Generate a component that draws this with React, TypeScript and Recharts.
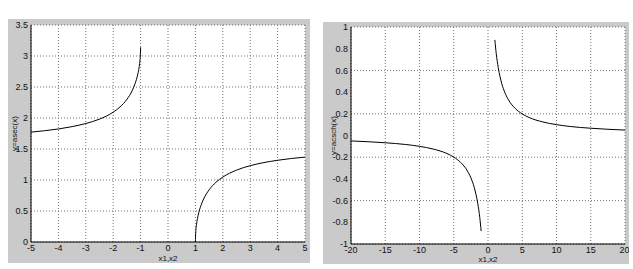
import { LineChart, Line, XAxis, YAxis, CartesianGrid } from 'recharts';

// asec(x)
const asecNeg = [
  { x: -5, y: 1.772 }, { x: -4.5, y: 1.795 }, { x: -4, y: 1.823 }, { x: -3.5, y: 1.861 },
  { x: -3, y: 1.911 }, { x: -2.5, y: 1.982 }, { x: -2, y: 2.094 }, { x: -1.75, y: 2.179 },
  { x: -1.5, y: 2.3 }, { x: -1.3, y: 2.448 }, { x: -1.2, y: 2.556 }, { x: -1.1, y: 2.712 },
  { x: -1.05, y: 2.83 }, { x: -1.02, y: 2.942 }, { x: -1.01, y: 3.0 }, { x: -1, y: 3.14 },
];
const asecPos = [
  { x: 1, y: 0 }, { x: 1.01, y: 0.141 }, { x: 1.02, y: 0.2 }, { x: 1.05, y: 0.311 },
  { x: 1.1, y: 0.43 }, { x: 1.2, y: 0.586 }, { x: 1.3, y: 0.694 }, { x: 1.5, y: 0.841 },
  { x: 1.75, y: 0.963 }, { x: 2, y: 1.047 }, { x: 2.5, y: 1.159 }, { x: 3, y: 1.231 },
  { x: 3.5, y: 1.281 }, { x: 4, y: 1.318 }, { x: 4.5, y: 1.347 }, { x: 5, y: 1.369 },
];

// acsch(x)
const acschNeg = [
  { x: -20, y: -0.05 }, { x: -15, y: -0.067 }, { x: -12, y: -0.083 }, { x: -10, y: -0.1 },
  { x: -8, y: -0.125 }, { x: -6, y: -0.166 }, { x: -5, y: -0.199 }, { x: -4, y: -0.248 },
  { x: -3, y: -0.327 }, { x: -2.5, y: -0.39 }, { x: -2, y: -0.481 }, { x: -1.5, y: -0.625 },
  { x: -1.2, y: -0.756 }, { x: -1, y: -0.881 },
];
const acschPos = [
  { x: 1, y: 0.881 }, { x: 1.2, y: 0.756 }, { x: 1.5, y: 0.625 }, { x: 2, y: 0.481 },
  { x: 2.5, y: 0.39 }, { x: 3, y: 0.327 }, { x: 4, y: 0.248 }, { x: 5, y: 0.199 },
  { x: 6, y: 0.166 }, { x: 8, y: 0.125 }, { x: 10, y: 0.1 }, { x: 12, y: 0.083 },
  { x: 15, y: 0.067 }, { x: 20, y: 0.05 },
];

const xTicksL = [-5, -4, -3, -2, -1, 0, 1, 2, 3, 4, 5];
const yTicksL = [0, 0.5, 1, 1.5, 2, 2.5, 3, 3.5];
const xTicksR = [-20, -15, -10, -5, 0, 5, 10, 15, 20];
const yTicksR = [-1, -0.8, -0.6, -0.4, -0.2, 0, 0.2, 0.4, 0.6, 0.8, 1];

const FONT = '"Liberation Sans", Arial, sans-serif';
const tickStyle = { fill: '#111', fontSize: 9, fontFamily: FONT };
const labelStyle = { fill: '#111', fontSize: 8, fontFamily: FONT, textAnchor: 'middle' as const };

interface PanelProps {
  left: number; top: number; width: number; height: number;
  margin: { top: number; right: number; bottom: number; left: number };
  yWidth: number; xHeight: number; labelOffset: number;
  xTicks: number[]; yTicks: number[];
  neg: { x: number; y: number }[]; pos: { x: number; y: number }[];
  yLabel: string;
}

function Panel(p: PanelProps) {
  const xd: [number, number] = [p.xTicks[0], p.xTicks[p.xTicks.length - 1]];
  const yd: [number, number] = [p.yTicks[0], p.yTicks[p.yTicks.length - 1]];
  return (
    <div style={{ position: 'absolute', left: p.left, top: p.top, width: p.width, height: p.height, background: '#cacaca' }}>
      <LineChart width={p.width} height={p.height} margin={p.margin}>
        <CartesianGrid stroke="#707070" strokeDasharray="1 2" fill="#fff" fillOpacity={1} />
        <XAxis
          dataKey="x" type="number" domain={xd} ticks={p.xTicks} height={p.xHeight}
          tick={tickStyle} tickLine={false} tickSize={2} tickMargin={1}
          axisLine={{ stroke: '#000' }} allowDuplicatedCategory={false}
          label={{ value: 'x1,x2', position: 'insideBottom', offset: 2, style: labelStyle }}
        />
        <XAxis
          xAxisId="top" orientation="top" type="number" domain={xd} ticks={p.xTicks}
          height={0} tick={false} tickLine={false} axisLine={{ stroke: '#000' }}
        />
        <YAxis
          type="number" domain={yd} ticks={p.yTicks} width={p.yWidth}
          tick={tickStyle} tickLine={false} tickSize={2} tickMargin={1}
          axisLine={{ stroke: '#000' }}
          label={{ value: p.yLabel, angle: -90, position: 'insideLeft', offset: p.labelOffset, style: labelStyle }}
        />
        <YAxis
          yAxisId="right" orientation="right" type="number" domain={yd} ticks={p.yTicks}
          width={0} tick={false} tickLine={false} axisLine={{ stroke: '#000' }}
        />
        <Line data={p.neg} dataKey="y" type="monotone" stroke="#000" strokeWidth={1} dot={false} isAnimationActive={false} />
        <Line data={p.pos} dataKey="y" type="monotone" stroke="#000" strokeWidth={1} dot={false} isAnimationActive={false} />
      </LineChart>
    </div>
  );
}

export default function App() {
  return (
    <div style={{ position: 'absolute', left: 0, top: 0, width: 633, height: 269, background: '#fff' }}>
      <Panel
        left={8} top={19} width={302} height={244}
        margin={{ top: 6, right: 5, bottom: 0, left: 0 }}
        yWidth={23} xHeight={21} labelOffset={6}
        xTicks={xTicksL} yTicks={yTicksL} neg={asecNeg} pos={asecPos}
        yLabel="y=asec(x)"
      />
      <Panel
        left={323} top={22} width={306} height={242}
        margin={{ top: 5, right: 4, bottom: 0, left: 0 }}
        yWidth={28} xHeight={20} labelOffset={10}
        xTicks={xTicksR} yTicks={yTicksR} neg={acschNeg} pos={acschPos}
        yLabel="y=acsch(x)"
      />
    </div>
  );
}
